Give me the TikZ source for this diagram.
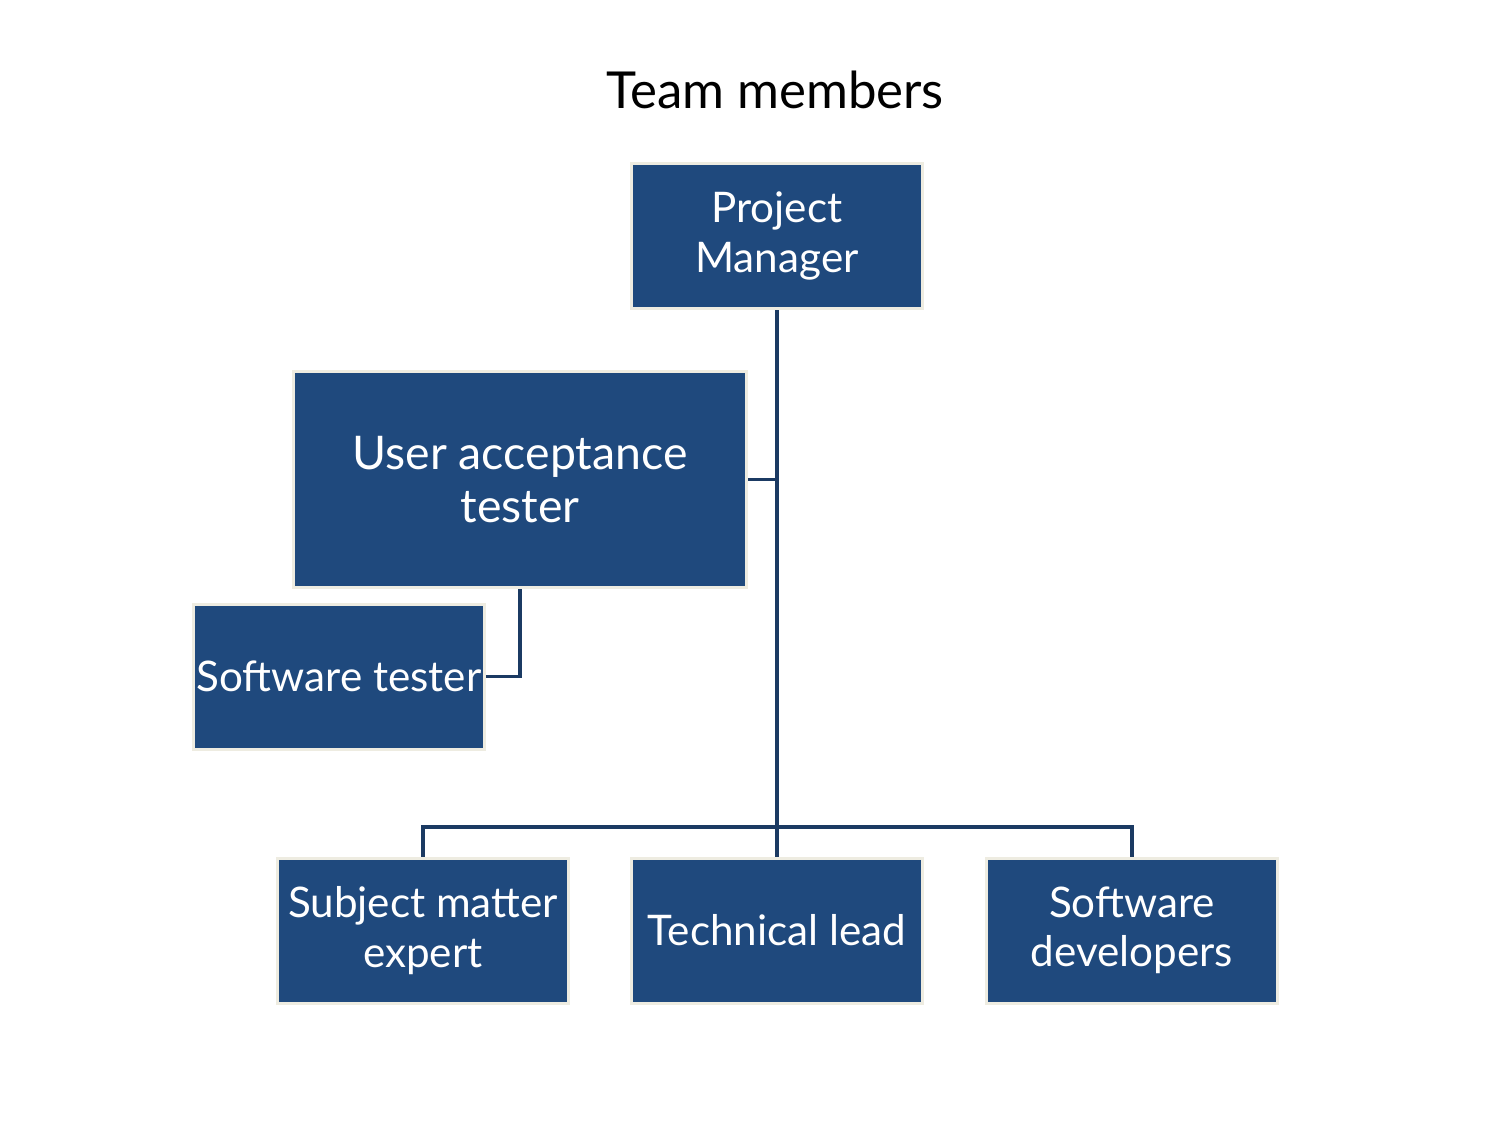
\documentclass[tikz,border=0pt]{standalone}
\usepackage{fontspec}
\setmainfont{Lato}
\usetikzlibrary{positioning,calc}
\definecolor{teamfill}{HTML}{1F497D}
\definecolor{teamedge}{HTML}{EEECE1}
\definecolor{teamwire}{HTML}{1B3A63}
\begin{document}
\begin{tikzpicture}[
  role/.style={draw=teamedge, line width=0.03cm, fill=teamfill, text=white, align=center,
    inner sep=1pt, minimum width=2.91cm, minimum height=1.45cm, font=\fontsize{12}{14}\selectfont},
  bigrole/.style={role, minimum width=4.53cm, minimum height=2.16cm, font=\fontsize{13.2}{15.3}\selectfont},
  wire/.style={teamwire, line width=0.035cm},
]
  \useasboundingbox (0,0) rectangle (15,-11.25);
  \node[font=\fontsize{14.5}{16}\selectfont] (title) at (7.75,-0.9) {Team members};
  % top and middle row
  \node[role] (pm) at (7.77,-2.36) {Project\\Manager};
  \node[bigrole] (uat) at (5.20,-4.795) {User acceptance\\tester};
  \node[role] (st) at (3.39,-6.765) {Software tester};
  % bottom row
  \node[role] (sme) at (4.23,-9.305) {Subject matter\\expert};
  \node[role] (tl) at (7.77,-9.305) {Technical lead};
  \node[role] (sd) at (11.32,-9.305) {Software\\developers};
  \coordinate (bus) at (7.77,-8.27);
  \draw[wire] (pm.south) -- (tl.north);
  \draw[wire] (uat.east) -- (uat.east -| pm.south);
  \draw[wire] (uat.south) |- (st.east);
  \draw[wire] (sme.north) |- (bus) -| (sd.north);
\end{tikzpicture}
\end{document}
